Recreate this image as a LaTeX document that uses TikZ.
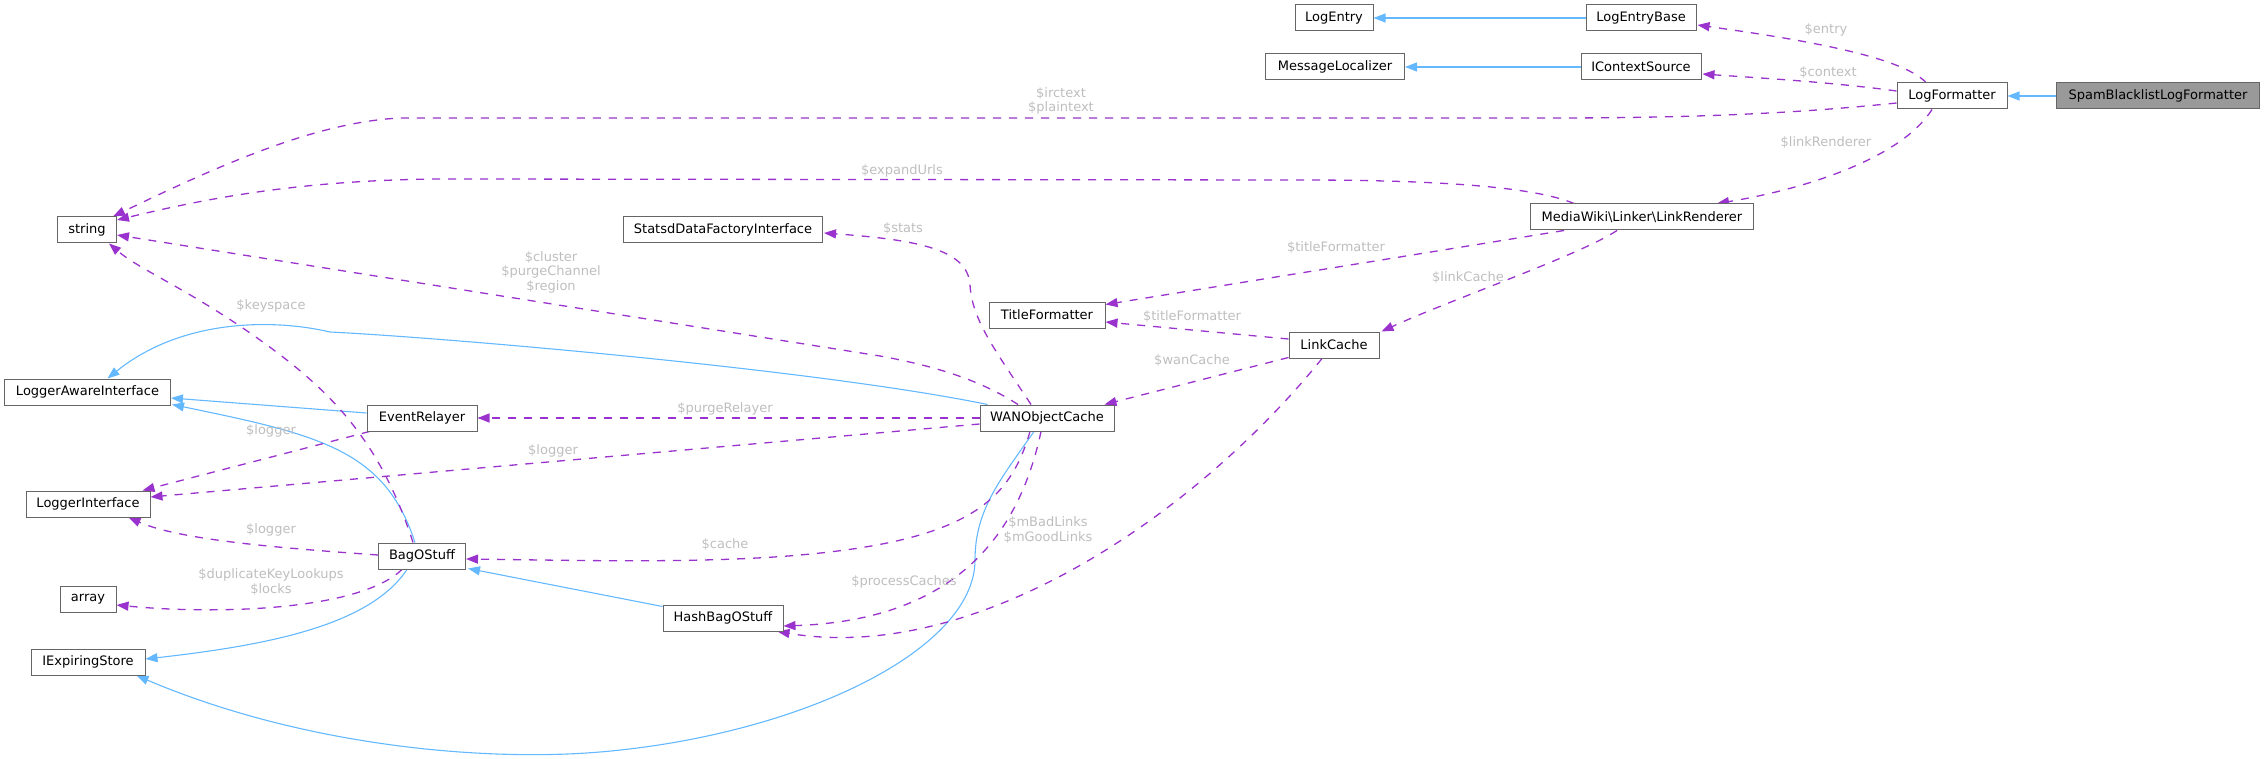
\documentclass[tikz,border=0pt]{standalone}
\usepackage{fontspec}
\setmainfont{DejaVu Sans}
\usetikzlibrary{arrows.meta,calc}
\definecolor{inhblue}{HTML}{63B8FF}
\definecolor{usepurple}{HTML}{9A32CD}
\definecolor{lblgray}{HTML}{BEBEBE}
\definecolor{boxgray}{HTML}{666666}
\definecolor{mainfill}{HTML}{999999}
\pgfdeclarelayer{bg}
\pgfsetlayers{bg,main}
\begin{document}
\begin{tikzpicture}[x=1pt,y=-1pt,
  cls/.style={draw=boxgray, line width=1pt, fill=white, minimum height=26pt, inner sep=0pt, font=\fontsize{13}{15}\selectfont},
  inh/.style={draw=inhblue, line width=1.1pt, -{Triangle[length=12pt,width=9pt]}},
  use/.style={draw=usepurple, line width=1.3pt, dash pattern=on 8pt off 8pt, -{Triangle[length=12pt,width=9pt]}},
  lbl/.style={text=lblgray, font=\fontsize{13}{14.5}\selectfont, align=center, inner sep=0pt},
]
\useasboundingbox (0,0) rectangle (2264,759);

% classes
\node[cls, minimum width=78pt] (LogEntry) at (1334,18) {LogEntry};
\node[cls, minimum width=110pt] (LogEntryBase) at (1641,18) {LogEntryBase};
\node[cls, minimum width=139pt] (MessageLocalizer) at (1335,67) {MessageLocalizer};
\node[cls, minimum width=120pt] (IContextSource) at (1641,67) {IContextSource};
\node[cls, minimum width=110pt] (LogFormatter) at (1952,96) {LogFormatter};
\node[cls, minimum width=203pt, fill=mainfill] (Spam) at (2158,96) {SpamBlacklistLogFormatter};
\node[cls, minimum width=59pt] (string) at (87,230) {string};
\node[cls, minimum width=199pt] (Statsd) at (723,230) {StatsdDataFactoryInterface};
\node[cls, minimum width=223pt] (LinkRenderer) at (1642,217) {MediaWiki\textbackslash Linker\textbackslash LinkRenderer};
\node[cls, minimum width=116pt] (TitleFormatter) at (1047,315) {TitleFormatter};
\node[cls, minimum width=90pt] (LinkCache) at (1334,345) {LinkCache};
\node[cls, minimum width=166pt] (LoggerAware) at (87.5,392) {LoggerAwareInterface};
\node[cls, minimum width=110pt] (EventRelayer) at (422,418) {EventRelayer};
\node[cls, minimum width=134pt] (WAN) at (1047,418) {WANObjectCache};
\node[cls, minimum width=124pt] (LoggerInterface) at (88,504) {LoggerInterface};
\node[cls, minimum width=87pt] (BagOStuff) at (422,556) {BagOStuff};
\node[cls, minimum width=56pt] (array) at (88,599) {array};
\node[cls, minimum width=120pt] (HashBagOStuff) at (723,618) {HashBagOStuff};
\node[cls, minimum width=114pt] (IExpiringStore) at (88,662) {IExpiringStore};

\begin{pgfonlayer}{bg}
% inheritance
\draw[inh] (LogEntryBase.west) -- (LogEntry.east);
\draw[inh] (IContextSource.west) -- (MessageLocalizer.east);
\draw[inh] (Spam.west) -- (LogFormatter.east);
\draw[inh] ($(WAN.north west)+(8,0)$) .. controls (820,370) and (450,338) .. (330,332) .. controls (270,318) and (180,320) .. ($(LoggerAware.north)+(20,0)$);
\draw[inh] ($(EventRelayer.west)+(0,-5)$) -- ($(LoggerAware.east)+(0,6)$);
\draw[inh] ($(BagOStuff.north)+(-7,0)$) .. controls (385,450) and (320,435) .. ($(LoggerAware.south east)+(1,-1)$);
\draw[inh] ($(BagOStuff.south)+(-15,0)$) .. controls (370,625) and (270,645) .. ($(IExpiringStore.east)+(0,-3)$);
\draw[inh] ($(HashBagOStuff.north west)+(0,2)$) -- ($(BagOStuff.south east)+(2,-1)$);
\draw[inh] ($(WAN.south)+(-13,0)$) .. controls (1000,480) and (975,510) .. (975,560) .. controls (975,650) and (800,735) .. (600,752) .. controls (480,762) and (300,745) .. ($(IExpiringStore.south east)+(-9,0)$);

% usage
\draw[use] ($(LogFormatter.north)+(-26,0)$) .. controls (1900,55) and (1790,38) .. ($(LogEntryBase.east)+(1,7)$);
\draw[use] ($(LogFormatter.west)+(0,-5)$) .. controls (1830,82) and (1760,78) .. ($(IContextSource.east)+(1,7)$);
\draw[use] ($(LogFormatter.west)+(0,7)$) .. controls (1800,113) and (1700,118) .. (1550,118) -- (400,118) .. controls (320,122) and (230,160) .. ($(string.north east)+(-4,0)$);
\draw[use] ($(LinkRenderer.north)+(-68,0)$) .. controls (1530,185) and (1420,180) .. (1300,180) -- (450,179) .. controls (300,179) and (200,200) .. ($(string.east)+(0,-10)$);
\draw[use] ($(WAN.north)+(-29,0)$) .. controls (980,380) and (935,366) .. (880,356) -- ($(string.east)+(0,5)$);
\draw[use] ($(BagOStuff.north)+(-9,0)$) .. controls (380,440) and (330,390) .. (260,340) .. controls (190,290) and (140,270) .. ($(string.south)+(22,0)$);
\draw[use] ($(WAN.north)+(-16,0)$) .. controls (995,350) and (972,320) .. (970,285) .. controls (968,250) and (920,240) .. ($(Statsd.east)+(1,3)$);
\draw[use] ($(LinkRenderer.south)+(-78,0)$) -- ($(TitleFormatter.north east)+(0,3)$);
\draw[use] ($(LinkCache.west)+(0,-6)$) -- ($(TitleFormatter.east)+(0,7)$);
\draw[use] ($(LinkCache.south west)+(0,-1)$) -- ($(WAN.north east)+(-10,0)$);
\draw[use] ($(LinkRenderer.south)+(-25,0)$) .. controls (1580,255) and (1450,300) .. ($(LinkCache.north east)+(2,0)$);
\draw[use] ($(LogFormatter.south)+(-20,0)$) .. controls (1900,160) and (1800,190) .. ($(LinkRenderer.north east)+(-37,0)$);
\draw[use] (WAN.west) -- (EventRelayer.east);
\draw[use] ($(WAN.west)+(0,6)$) -- ($(LoggerInterface.east)+(0,-7)$);
\draw[use] ($(EventRelayer.south west)+(3,0)$) -- ($(LoggerInterface.north east)+(-8,0)$);
\draw[use] ($(BagOStuff.west)+(0,-1)$) .. controls (280,548) and (180,540) .. ($(LoggerInterface.south east)+(-22,0)$);
\draw[use] ($(BagOStuff.south)+(-20,0)$) .. controls (360,610) and (220,615) .. ($(array.east)+(0,6)$);
\draw[use] ($(WAN.south)+(-17,0)$) .. controls (1010,500) and (970,540) .. (800,555) .. controls (700,564) and (560,560) .. ($(BagOStuff.east)+(0,3)$);
\draw[use] ($(WAN.south)+(-6,0)$) .. controls (1020,530) and (960,620) .. ($(HashBagOStuff.east)+(0,8)$);
\draw[use] ($(LinkCache.south)+(-12,0)$) .. controls (1200,510) and (980,665) .. ($(HashBagOStuff.south east)+(-6,0)$);
\end{pgfonlayer}

% labels
\node[lbl] (l1) at (1826,30) {\$entry};
\node[lbl] (l2) at (1828,73) {\$context};
\node[lbl] (l3) at (1061,101) {\$irctext\\\$plaintext};
\node[lbl] (l4) at (1826,143) {\$linkRenderer};
\node[lbl] (l5) at (902,171) {\$expandUrls};
\node[lbl] (l6) at (903,229) {\$stats};
\node[lbl] (l7) at (1336,248) {\$titleFormatter};
\node[lbl] (l8) at (1468,278) {\$linkCache};
\node[lbl] (l9) at (551,272) {\$cluster\\\$purgeChannel\\\$region};
\node[lbl] (l10) at (271,306) {\$keyspace};
\node[lbl] (l11) at (1192,317) {\$titleFormatter};
\node[lbl] (l12) at (1192,361) {\$wanCache};
\node[lbl] (l13) at (725,409) {\$purgeRelayer};
\node[lbl] (l14) at (271,431) {\$logger};
\node[lbl] (l15) at (553,451) {\$logger};
\node[lbl] (l16) at (271,530) {\$logger};
\node[lbl] (l17) at (1048,530) {\$mBadLinks\\\$mGoodLinks};
\node[lbl] (l18) at (725,545) {\$cache};
\node[lbl] (l19) at (271,582) {\$duplicateKeyLookups\\\$locks};
\node[lbl] (l20) at (904,582) {\$processCaches};
\end{tikzpicture}
\end{document}
